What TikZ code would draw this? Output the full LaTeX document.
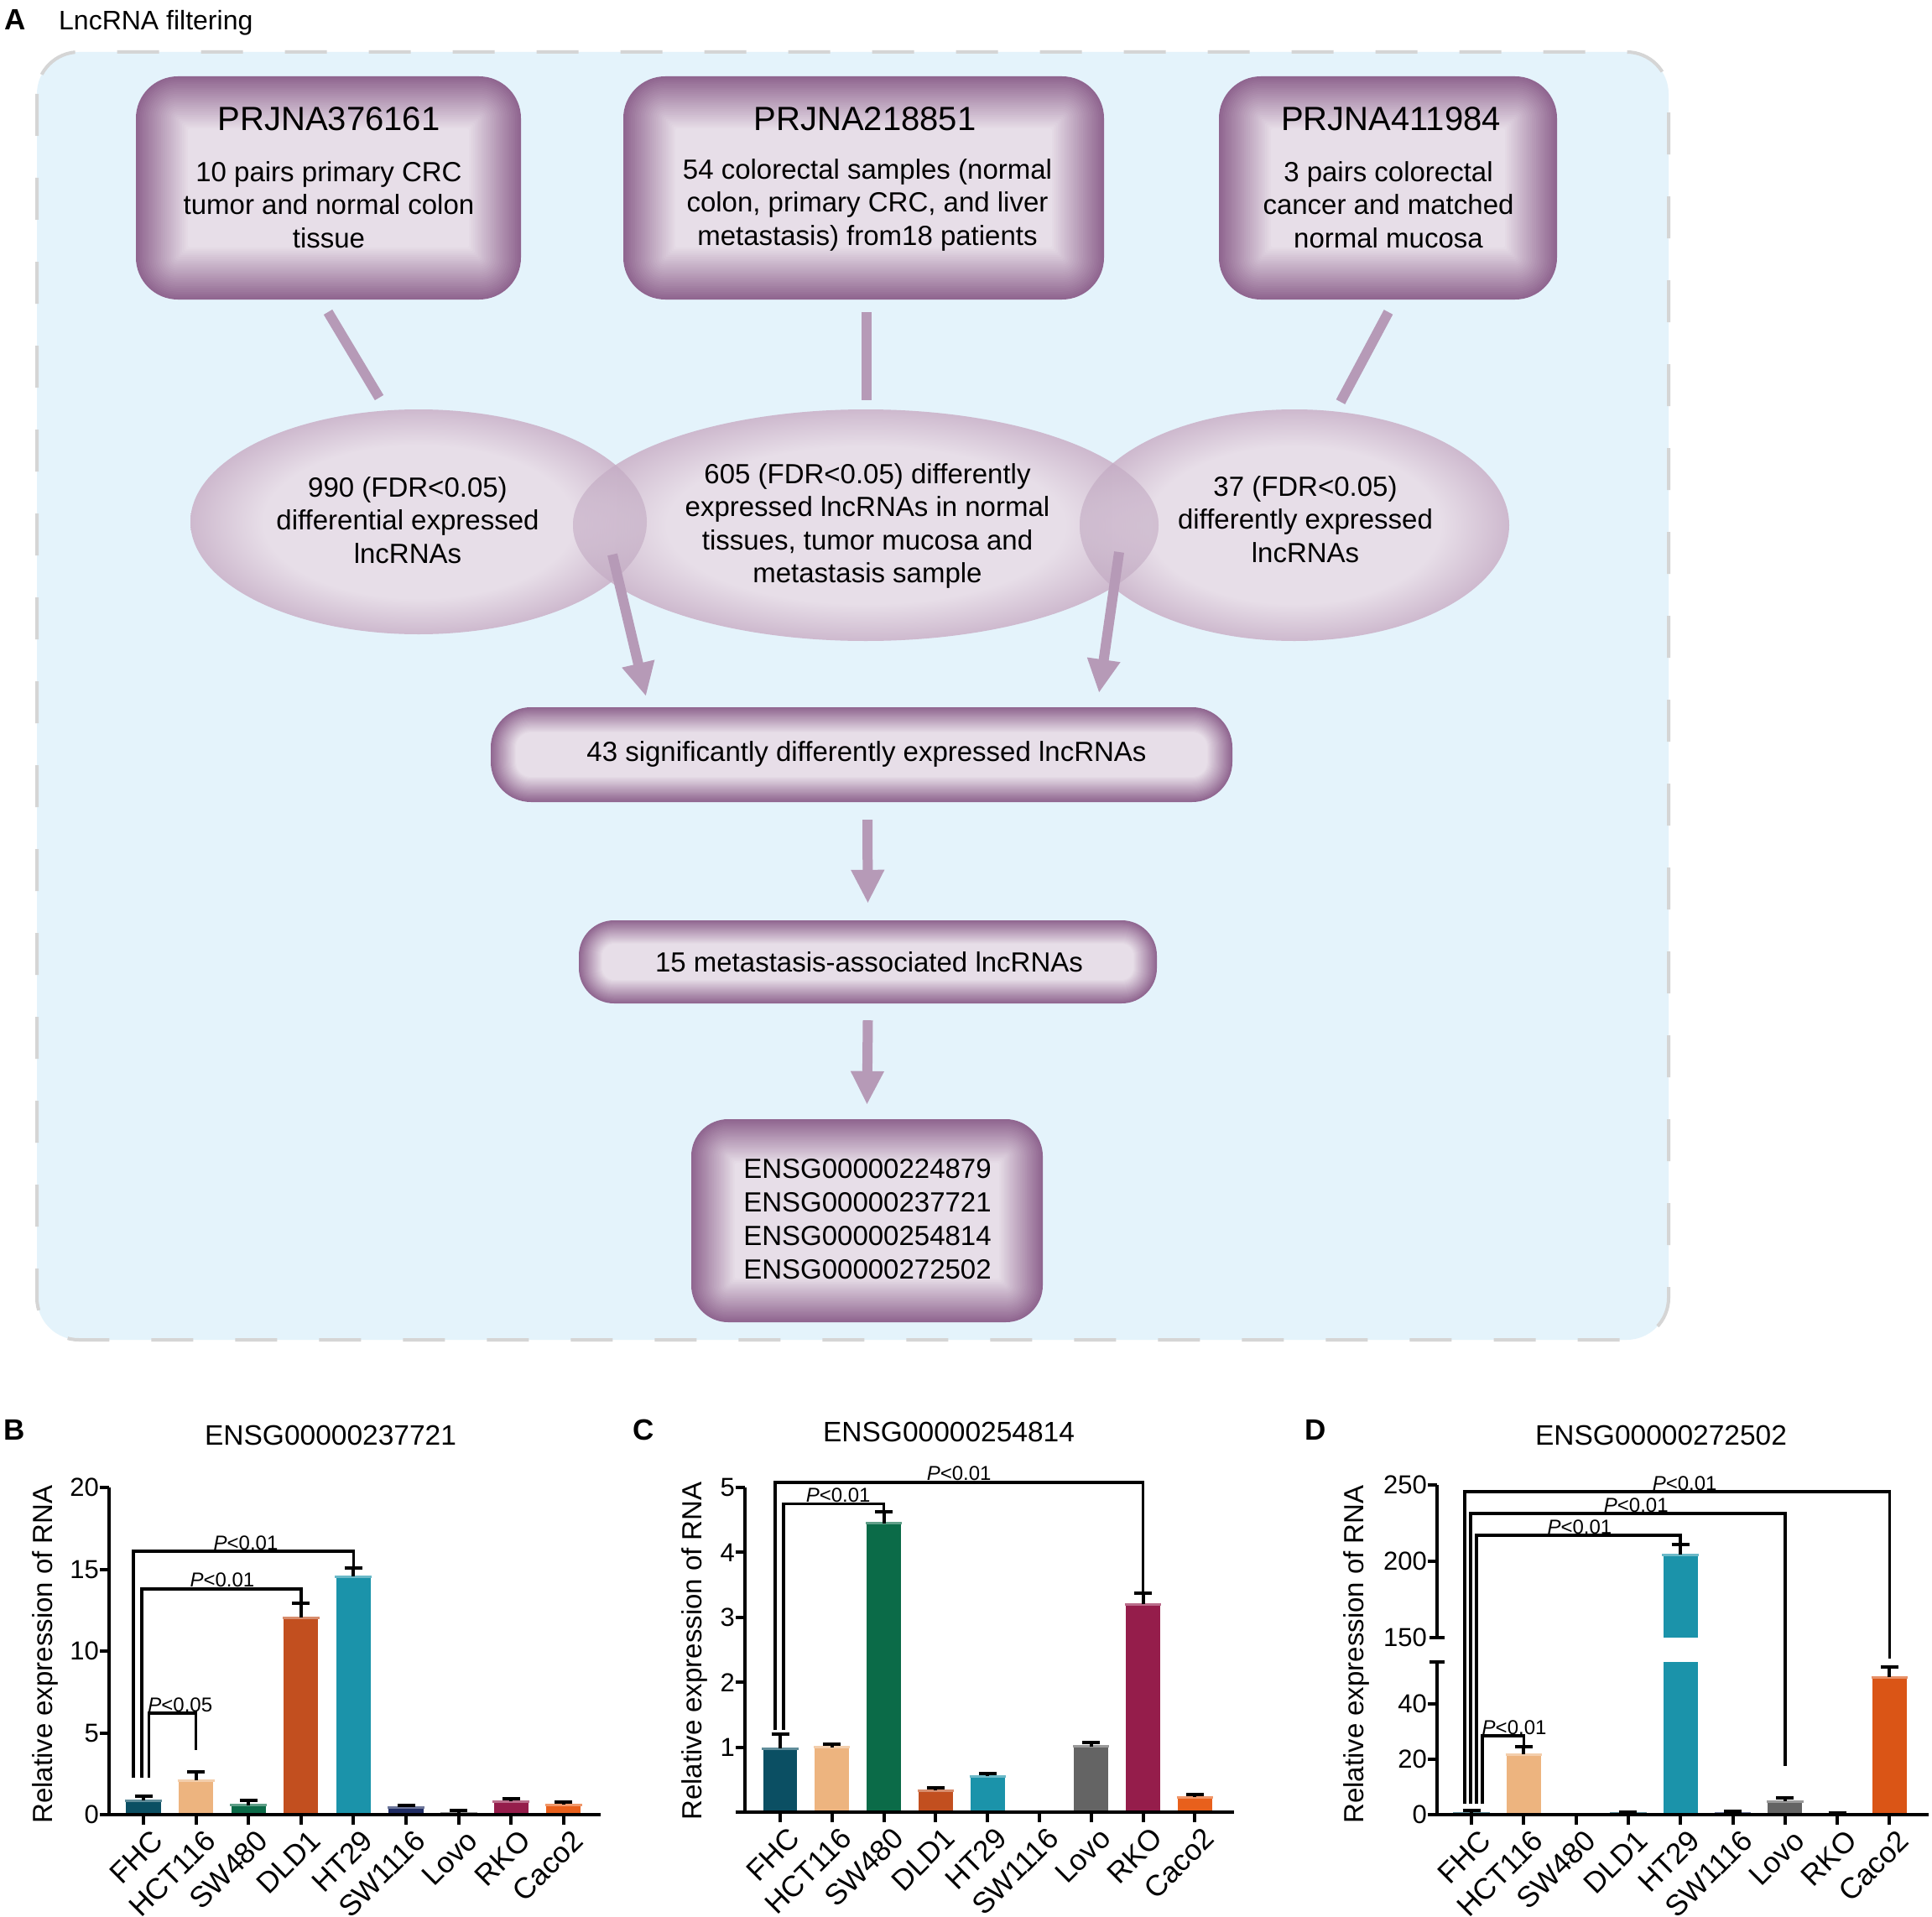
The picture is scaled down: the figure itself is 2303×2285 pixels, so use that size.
\documentclass[tikz,border=0pt]{standalone}
\usepackage{fontspec}
\setmainfont{Liberation Sans}
\usetikzlibrary{arrows.meta,calc,shapes.geometric}
\definecolor{bgblue}{HTML}{E4F3FB}
\definecolor{dashgray}{HTML}{D5D5D5}
\definecolor{pdark}{HTML}{906690}
\definecolor{plight}{HTML}{E7DEE8}
\definecolor{pmid}{HTML}{C4ABC4}
\definecolor{parrow}{HTML}{B69AB7}
\definecolor{cFHC}{HTML}{0B4F63}
\definecolor{cHCT}{HTML}{EDB47F}
\definecolor{cSWa}{HTML}{0B6B48}
\definecolor{cDLD}{HTML}{C24F1F}
\definecolor{cHT}{HTML}{1B93AA}
\definecolor{cSWb}{HTML}{1F2C64}
\definecolor{cLovo}{HTML}{646464}
\definecolor{cRKO}{HTML}{951D4B}
\definecolor{cCaco}{HTML}{E8601C}
\definecolor{cCacoD}{HTML}{DA5516}
\pgfdeclareradialshading{ellglow}{\pgfpoint{0bp}{0bp}}{color(0bp)=(plight); color(17bp)=(plight); color(28bp)=(pmid); color(35.5bp)=(pdark); color(50bp)=(pdark)}
\newcommand\myfbig{\fontsize{40}{48}\selectfont}
\newcommand\myfmid{\fontsize{33}{39.5}\selectfont}
\newcommand\myftick{\fontsize{31}{36}\selectfont}
\newcommand\myfx{\fontsize{35}{40}\selectfont}
\newcommand\myfp{\fontsize{24}{28}\selectfont}
\newcommand\myfpanel{\fontsize{35}{40}\selectfont\bfseries}
\newcommand\glowbox[7]{%
  \foreach \gi in {0,...,27}{%
    \pgfmathsetmacro\gd{#7*\gi/27}%
    \pgfmathsetmacro\gp{100*(\gi/27)}%
    \pgfmathsetmacro\gr{max(#6-\gd,2)}%
    \fill[plight!\gp!pdark, rounded corners={\gr pt}] (#2+\gd,#3+\gd) rectangle (#4-\gd,#5-\gd);
  }%
  \node[draw=none, rounded corners=#6pt, minimum width={#4pt-#2pt}, minimum height={#5pt-#3pt}, inner sep=0pt] (#1) at ({(#2+#4)/2},{(#3+#5)/2}) {};
}
\newcommand\mybar[4]{%
  \fill[#4] ({#1-0.33},0) rectangle ({#1+0.33},#2);
  \draw[#4!65!white, line width=3pt] ({#1-0.35},#2) -- ({#1+0.35},#2);
  \draw[ebar] (#1,#2) -- (#1,#3);
  \draw[ebar] ([xshift=-10.5pt]#1,#3) -- ([xshift=10.5pt]#1,#3);
}
\tikzset{
  conn/.style={draw=parrow, line width=12pt},
  flowarrow/.style={conn, -{Triangle[width=37pt,length=40pt]}},
  txt/.style={inner sep=0pt, align=center, font=\myfmid},
  axisl/.style={line width=4pt},
  ebar/.style={line width=4pt, black},
  brk/.style={line width=3.5pt, black},
  plab/.style={anchor=south, inner sep=1.5pt, font=\myfp},
  ytl/.style={anchor=east, inner sep=0pt, font=\myftick},
  xlab/.style={xshift=8pt, yshift=-16pt, rotate=45, anchor=north east, inner sep=0pt, font=\myfx},
  ttl/.style={inner sep=0pt, font=\fontsize{33.5}{40}\selectfont},
  yttl/.style={rotate=90, inner sep=0pt, font=\fontsize{33}{40}\selectfont}
}
\begin{document}
\begin{tikzpicture}[x=1pt,y=-1pt]
\useasboundingbox (0,0) rectangle (2303,2285);
\fill[white] (0,0) rectangle (2303,2285);
% ---------------- panel A
\node[anchor=base west, inner sep=0pt, font=\myfpanel] (lblA) at (5,36) {A};
\node[anchor=base west, inner sep=0pt, font=\fontsize{32}{38}\selectfont] (lblAt) at (70,36) {LncRNA filtering};
\draw[draw=dashgray, line width=4pt, dash pattern=on 50pt off 50pt, fill=bgblue, rounded corners=50pt] (44,62) rectangle (1989,1597);
% top boxes
\glowbox{box1}{162}{91}{621}{357}{50}{62}
\glowbox{box2}{743}{91}{1316}{357}{50}{62}
\glowbox{box3}{1453}{91}{1856}{357}{50}{62}
\node[txt, font=\myfbig] (b1t) at (392,142) {PRJNA376161};
\node[txt] (b1b) at (392,244) {10 pairs primary CRC\\tumor and normal colon\\tissue};
\node[txt, font=\myfbig] (b2t) at (1031,142) {PRJNA218851};
\node[txt] (b2b) at (1034,244) {54 colorectal samples (normal\\colon, primary CRC, and liver\\metastasis) from18 patients};
\node[txt, font=\myfbig] (b3t) at (1658,142) {PRJNA411984};
\node[txt] (b3b) at (1655,244) {3 pairs colorectal\\cancer and matched\\normal mucosa};
% connectors to ellipses
\coordinate (c1a) at (391,372); \coordinate (c1b) at (452,474);
\coordinate (c2a) at (1033,372); \coordinate (c2b) at (1033,477);
\coordinate (c3a) at (1655,372); \coordinate (c3b) at (1598,479);
\draw[conn] (c1a) -- (c1b);
\draw[conn] (c2a) -- (c2b);
\draw[conn] (c3a) -- (c3b);
% ellipses
\node[ellipse, minimum width=544pt, minimum height=268pt, inner sep=0pt, shade, shading=ellglow] (e1) at (499,622) {};
\node[ellipse, minimum width=512pt, minimum height=276pt, inner sep=0pt, shade, shading=ellglow] (e3) at (1543,626) {};
\node[ellipse, minimum width=698pt, minimum height=276pt, inner sep=0pt, shade, shading=ellglow] (e2) at (1032,626) {};
\begin{scope}
\clip (1032,626) ellipse [x radius=349pt, y radius=138pt];
\shade[shading=ellglow, opacity=0.5] (499,622) ellipse [x radius=272pt, y radius=134pt];
\fill[pdark, opacity=0.12] (499,622) ellipse [x radius=272pt, y radius=134pt];
\shade[shading=ellglow, opacity=0.5] (1543,626) ellipse [x radius=256pt, y radius=138pt];
\fill[pdark, opacity=0.12] (1543,626) ellipse [x radius=256pt, y radius=138pt];
\end{scope}
\node[txt] (e1t) at (486,620) {990 (FDR<0.05)\\differential expressed\\lncRNAs};
\node[txt] (e2t) at (1034,627) {605 (FDR<0.05) differently\\expressed lncRNAs in normal\\tissues, tumor mucosa and\\metastasis sample};
\node[txt] (e3t) at (1556,619) {37 (FDR<0.05)\\differently expressed\\lncRNAs};
% lower boxes
\glowbox{box43}{585}{843}{1469}{956}{48}{30}
\glowbox{box15}{690}{1097}{1379}{1196}{42}{28}
\glowbox{boxE}{824}{1334}{1243}{1576}{44}{52}
\node[txt] (t43) at (1033,899) {43 significantly differently expressed lncRNAs};
\node[txt] (t15) at (1036,1147) {15 metastasis-associated lncRNAs};
\node[txt, font=\fontsize{33}{40}\selectfont] (tE) at (1034,1453) {ENSG00000224879\\ENSG00000237721\\ENSG00000254814\\ENSG00000272502};
% arrows
\coordinate (a1s) at (730,661); \coordinate (a1e) at (770,830);
\coordinate (a2s) at (1334,658); \coordinate (a2e) at (1310,826);
\coordinate (a3s) at ($(box43.south)+(7,21)$); \coordinate (a3e) at ($(box15.north)+(0,-20)$);
\coordinate (a4s) at ($(box15.south)+(0,20)$); \coordinate (a4e) at ($(boxE.north)+(0,-17)$);
\draw[flowarrow] (a1s) -- (a1e);
\draw[flowarrow] (a2s) -- (a2e);
\draw[flowarrow] (a3s) -- (a3e);
\draw[flowarrow] (a4s) -- (a4e);
% ---------------- panel labels and titles
\node[font=\myfpanel, inner sep=0pt] (lblB) at (17,1704) {B};
\node[font=\myfpanel, inner sep=0pt] (lblC) at (767,1704) {C};
\node[font=\myfpanel, inner sep=0pt] (lblD) at (1568,1704) {D};
\node[ttl] (ttlB) at (394,1711) {ENSG00000237721};
\node[ttl] (ttlC) at (1131,1707) {ENSG00000254814};
\node[ttl] (ttlD) at (1980,1711) {ENSG00000272502};
\node[yttl] (yB) at (54,1972) {Relative expression of RNA};
\node[yttl] (yC) at (828,1968) {Relative expression of RNA};
\node[yttl] (yD) at (1617,1972) {Relative expression of RNA};
% ---------------- panel B
\begin{scope}[shift={(171pt,-2163pt)}, x=62.6pt, y=19.5pt]
\mybar{0}{0.85}{1.15}{cFHC}
\mybar{1}{2.1}{2.6}{cHCT}
\mybar{2}{0.57}{0.85}{cSWa}
\mybar{3}{12.05}{12.9}{cDLD}
\mybar{4}{14.55}{15.1}{cHT}
\mybar{5}{0.45}{0.55}{cSWb}
\mybar{6}{0.1}{0.25}{cLovo}
\mybar{7}{0.8}{1.0}{cRKO}
\mybar{8}{0.6}{0.75}{cCaco}
\draw[axisl] (-0.655,20) -- (-0.655,0) -- (8.71,0);
\foreach \v in {0,5,10,15,20}{
  \draw[axisl] (-0.655,\v) -- ++(-11pt,0pt);
  \node[ytl, xshift=-12pt] (byl\v) at (-0.655,\v) {\v};
}
\foreach \i/\n in {0/FHC,1/HCT116,2/SW480,3/DLD1,4/HT29,5/SW1116,6/Lovo,7/RKO,8/Caco2}{
  \draw[axisl] (\i,0) -- ++(0pt,-12pt);
  \node[xlab] (bxl\i) at (\i,0) {\n};
}
\draw[brk] (0.1,2.26) |- (1,6.2) -- (1,3.96);
\node[plab, anchor=south west] (bp1) at (0.06,6.2) {\textit{P}<0.05};
\draw[brk] (-0.03,2.26) |- (3,13.8) -- (3,12.9);
\node[plab] (bp2) at (1.5,13.8) {\textit{P}<0.01};
\draw[brk] (-0.19,2.26) |- (4,16.1) -- (4,15.1);
\node[plab] (bp3) at (1.95,16.1) {\textit{P}<0.01};
\end{scope}
% ---------------- panel C
\begin{scope}[shift={(930pt,-2160pt)}, x=61.8pt, y=77.4pt]
\mybar{0}{0.98}{1.2}{cFHC}
\mybar{1}{1.0}{1.05}{cHCT}
\mybar{2}{4.45}{4.62}{cSWa}
\mybar{3}{0.33}{0.37}{cDLD}
\mybar{4}{0.55}{0.59}{cHT}
\mybar{6}{1.01}{1.07}{cLovo}
\mybar{7}{3.2}{3.37}{cRKO}
\mybar{8}{0.23}{0.27}{cCaco}
\draw[axisl] (-0.68,5) -- (-0.68,0) -- (8.75,0);
\foreach \v in {0,1,2,3,4,5}{
  \draw[axisl] (-0.68,\v) -- ++(-11pt,0pt);
}
\foreach \v in {1,2,3,4,5}{
  \node[ytl, xshift=-12pt] (cyl\v) at (-0.68,\v) {\v};
}
\foreach \i/\n in {0/FHC,1/HCT116,2/SW480,3/DLD1,4/HT29,5/SW1116,6/Lovo,7/RKO,8/Caco2}{
  \draw[axisl] (\i,0) -- ++(0pt,-12pt);
  \node[xlab] (cxl\i) at (\i,0) {\n};
}
\draw[brk] (0.065,1.26) |- (2,4.75) -- (2,4.62);
\node[plab] (cp1) at (1.12,4.75) {\textit{P}<0.01};
\draw[brk] (-0.1,1.26) |- (7,5.08) -- (7,3.37);
\node[plab] (cp2) at (3.45,5.08) {\textit{P}<0.01};
\end{scope}
% ---------------- panel D (y in pixels above axis, broken scale)
\begin{scope}[shift={(1754pt,-2163pt)}, x=62.3pt, y=1pt]
\mybar{0}{2}{5}{cFHC}
\mybar{1}{72}{81}{cHCT}
\mybar{3}{1.5}{3}{cFHC}
% HT29 broken bar
\fill[cHT] (3.67,0) rectangle (4.33,182);
\fill[cHT] (3.67,211) rectangle (4.33,310);
\draw[cHT!65!white, line width=3pt] (3.65,310) -- (4.35,310);
\draw[ebar] (4,310) -- (4,322);
\draw[ebar] ([xshift=-10.5pt]4,322) -- ([xshift=10.5pt]4,322);
\mybar{5}{2}{4}{cSWb}
\mybar{6}{16}{20}{cLovo}
\mybar{7}{1}{2.5}{cRKO}
\mybar{8}{164}{176}{cCacoD}
\draw[axisl] (-0.658,393) -- (-0.658,211);
\draw[axisl] (-0.658,182) -- (-0.658,0) -- (8.75,0);
\foreach \v/\p in {250/393,200/302}{
  \draw[axisl] (-0.658,\p) -- ++(-11pt,0pt);
  \node[ytl, xshift=-12pt] (dyl\v) at (-0.658,\p) {\v};
}
\draw[axisl] ([xshift=-9pt]-0.658,211) -- ([xshift=9pt]-0.658,211);
\node[ytl, xshift=-12pt] (dyl150) at (-0.658,211) {150};
\draw[axisl] ([xshift=-9pt]-0.658,182) -- ([xshift=9pt]-0.658,182);
\foreach \v/\p in {40/132.4,20/66.2,0/0}{
  \draw[axisl] (-0.658,\p) -- ++(-11pt,0pt);
  \node[ytl, xshift=-12pt] (dyl\v) at (-0.658,\p) {\v};
}
\foreach \i/\n in {0/FHC,1/HCT116,2/SW480,3/DLD1,4/HT29,5/SW1116,6/Lovo,7/RKO,8/Caco2}{
  \draw[axisl] (\i,0) -- ++(0pt,-12pt);
  \node[xlab] (dxl\i) at (\i,0) {\n};
}
\draw[brk] (-0.128,13) |- (8,385) -- (8,186);
\node[plab] (dp1) at (4.08,385) {\textit{P}<0.01};
\draw[brk] (-0.016,13) |- (6,359) -- (6,58);
\node[plab] (dp2) at (3.15,359) {\textit{P}<0.01};
\draw[brk] (0.096,13) |- (4,333) -- (4,324);
\node[plab] (dp3) at (2.07,333) {\textit{P}<0.01};
\draw[brk] (0.209,13) |- (1,94) -- (1,81);
\node[plab] (dp4) at (0.82,94) {\textit{P}<0.01};
\end{scope}
\end{tikzpicture}
\end{document}
